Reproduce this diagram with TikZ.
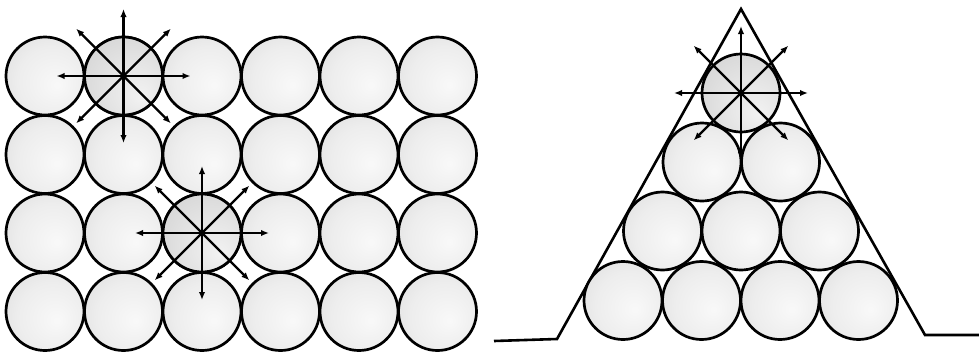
\documentclass[tikz,border=0pt]{standalone}
\usetikzlibrary{arrows.meta}
\pgfdeclareradialshading{ballgray}{\pgfpoint{8bp}{-6bp}}{color(0bp)=(gray!5); color(22bp)=(gray!14); color(40bp)=(gray!28); color(50bp)=(gray!40)}
\pgfdeclareradialshading{balldark}{\pgfpoint{12bp}{-14bp}}{color(0bp)=(gray!10); color(20bp)=(gray!22); color(40bp)=(gray!36); color(50bp)=(gray!46)}
\tikzset{
  ball/.style={circle, draw=black, line width=2.7pt, inner sep=0pt, minimum size=78pt, shading=ballgray},
  hball/.style={ball, shading=balldark},
  arr/.style={line width=2.2pt, -{Latex[length=8pt,width=6.5pt]}},
  wall/.style={line width=2.6pt, line join=miter}
}
\begin{document}
\begin{tikzpicture}[x=1pt,y=-1pt]
\useasboundingbox (0,0) rectangle (979,354);
% left grid
\foreach \i in {1,...,6}{
  \foreach \j in {1,...,4}{
    \pgfmathsetmacro{\cx}{45+78.5*(\i-1)}
    \pgfmathsetmacro{\cy}{76+78.5*(\j-1)}
    \node[ball] (g\i\j) at (\cx,\cy) {};
  }
}
\node[hball] (g21) at (123.5,76) {};
\node[hball] (g33) at (202,233) {};
\foreach \a in {0,45,...,315}{
  \draw[arr] (g21.center) -- ++(\a:67);
  \draw[arr] (g33.center) -- ++(\a:67);
}
% right pile
\coordinate (apex) at (741,9);
\coordinate (lb) at (557,339);
\coordinate (le) at (494,341);
\coordinate (rb) at (925,335);
\coordinate (re) at (979,335);
\draw[wall] (le) -- (lb) -- (apex) -- (rb) -- (re);
\node[hball] (t1) at (741,93) {};
\node[ball] (t21) at (702,162) {};
\node[ball] (t22) at (780.5,162) {};
\node[ball] (t31) at (662.5,231) {};
\node[ball] (t32) at (741,231) {};
\node[ball] (t33) at (819.5,231) {};
\node[ball] (t41) at (623,300.5) {};
\node[ball] (t42) at (701.5,300.5) {};
\node[ball] (t43) at (780,300.5) {};
\node[ball] (t44) at (858.5,300.5) {};
\foreach \a in {0,45,...,315}{
  \draw[arr] (t1.center) -- ++(\a:67);
}
\end{tikzpicture}
\end{document}
